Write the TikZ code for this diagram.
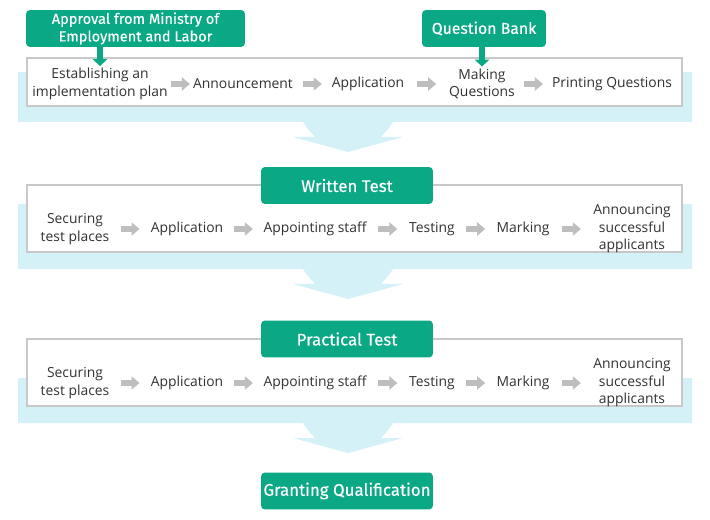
\documentclass[tikz,border=0pt]{standalone}
\usepackage{fontspec}
\setmainfont{Open Sans}
\newfontfamily\tagfont{Fira Sans}[FakeBold=0.3]
\usetikzlibrary{arrows.meta}

\definecolor{tagGreen}{RGB}{11,168,134}
\definecolor{bandCyan}{RGB}{211,241,246}
\definecolor{boxGray}{RGB}{200,200,200}
\definecolor{arrGray}{RGB}{190,190,190}
\definecolor{txtGray}{RGB}{50,50,50}

% grey arrow centred in the gap between two steps
\newcommand{\flowarrow}[2]{%
  \path (#1.east) -- coordinate[pos=.5] (#1-#2) (#2.west);
  \draw[flow] ([xshift=-0.19cm]#1-#2) -- ([xshift=0.19cm]#1-#2);}

% light band behind a stage, with its arrow down
\newcommand{\band}[2]{%
  \fill[bandCyan] (18,#1) -- (692,#1) -- (692,#2) -- (393,#2)
    .. controls (389,{#2+6}) .. (381,{#2+15}) -- (403,{#2+15}) -- (348,{#2+30})
    -- (293,{#2+15}) -- (315,{#2+15}) .. controls (307,{#2+6}) .. (303,#2)
    -- (18,#2) -- cycle;}

\begin{document}
\begin{tikzpicture}[x=0.02cm, y=-0.02cm,
            tag/.style={rectangle, fill=tagGreen, rounded corners=0.08cm, text=white, font=\tagfont\fontsize{9}{10.5}\selectfont, align=center, minimum height=0.74cm, inner sep=0pt},
            stage/.style={tag, minimum width=3.44cm, font=\tagfont\fontsize{9.6}{11}\selectfont},
            panel/.style={draw=boxGray, fill=white, line width=0.6pt},
            stepname/.style={text=txtGray, font=\fontsize{7.9}{10}\selectfont, align=center, inner sep=1pt},
            flow/.style={draw=arrGray, line width=0.12cm, -{Triangle[width=0.26cm, length=0.16cm]}},
            pointer/.style={draw=tagGreen, line width=0.12cm, -{Triangle[width=0.28cm, length=0.14cm]}}
            ]
            \useasboundingbox (0,0) rectangle (710,520);

            % Bands and panels
            \band{72}{122}
            \band{204}{269}
            \band{378}{423}
            \draw[panel] (27,58) rectangle (682,106);
            \draw[panel] (27,185) rectangle (682,252);
            \draw[panel] (27,339) rectangle (682,406);

            % Preparation steps
            \node[stepname] (plan) at (100,84) {Establishing an\\implementation plan};
            \node[stepname] (notice) at (243,84) {Announcement};
            \node[stepname] (apply) at (368,84) {Application};
            \node[stepname] (making) at (482,84) {Making\\Questions};
            \node[stepname] (printing) at (612,84) {Printing Questions};

            % Written test steps
            \node[stepname] (wplace) at (75,229) {Securing\\test places};
            \node[stepname] (wapply) at (187,229) {Application};
            \node[stepname] (wstaff) at (315,229) {Appointing staff};
            \node[stepname] (wtest) at (432,229) {Testing};
            \node[stepname] (wmark) at (523,229) {Marking};
            \node[stepname] (wpass) at (632,229) {Announcing\\successful\\applicants};

            % Practical test steps
            \node[stepname] (pplace) at (75,383) {Securing\\test places};
            \node[stepname] (papply) at (187,383) {Application};
            \node[stepname] (pstaff) at (315,383) {Appointing staff};
            \node[stepname] (ptest) at (432,383) {Testing};
            \node[stepname] (pmark) at (523,383) {Marking};
            \node[stepname] (ppass) at (632,383) {Announcing\\successful\\applicants};

            % Arrows between steps
            \flowarrow{plan}{notice}
            \flowarrow{notice}{apply}
            \flowarrow{apply}{making}
            \flowarrow{making}{printing}
            \flowarrow{wplace}{wapply}
            \flowarrow{wapply}{wstaff}
            \flowarrow{wstaff}{wtest}
            \flowarrow{wtest}{wmark}
            \flowarrow{wmark}{wpass}
            \flowarrow{pplace}{papply}
            \flowarrow{papply}{pstaff}
            \flowarrow{pstaff}{ptest}
            \flowarrow{ptest}{pmark}
            \flowarrow{pmark}{ppass}

            % Tags
            \node[tag, minimum width=4.38cm, font=\tagfont\fontsize{8.3}{10}\selectfont] (approval) at (135.5,28.5) {Approval from Ministry of\\Employment and Labor};
            \node[tag, minimum width=2.48cm] (qbank) at (484,28.5) {Question Bank};
            \node[stage] (written) at (347,185.5) {Written Test};
            \node[stage] (practical) at (347,339) {Practical Test};
            \node[stage] (granting) at (347,491) {Granting Qualification};

            % Pointers from tags
            \draw[pointer] (approval.south -| plan.north) -- (plan.north);
            \draw[pointer] (qbank.south -| making.north) -- (making.north);

        \end{tikzpicture}
\end{document}
